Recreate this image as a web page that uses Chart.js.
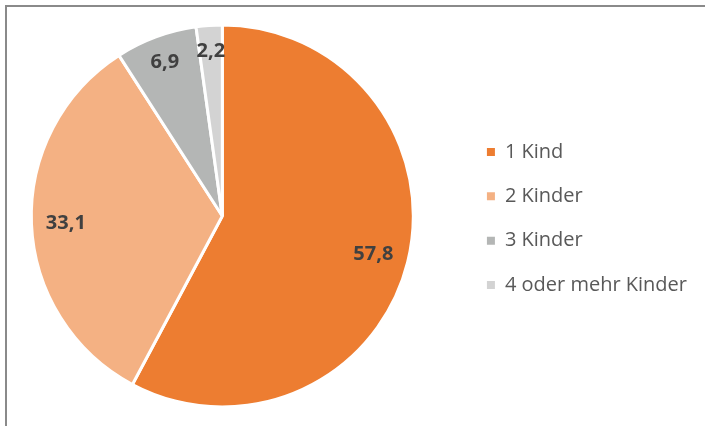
<!DOCTYPE html>
<html lang="de">
<head>
  <meta charset="UTF-8">
  <title>Kinder</title>
  <script src="https://cdn.jsdelivr.net/npm/chart.js"></script>
  <style>
    body { margin: 0; background: #fff; overflow: hidden; }
    #frame {
      position: absolute; left: 5px; top: 5px; width: 700px; height: 421px;
      border-top: 2px solid #8a8a8a; border-left: 2px solid #8a8a8a;
    }
    #wrap { position: absolute; left: -18px; top: 0; height: 426px; }
  </style>
</head>
<body>
  <div id="frame"></div>
  <div id="wrap"><canvas id="pieChart"></canvas></div>

  <script>
    const categories = ['1 Kind', '2 Kinder', '3 Kinder', '4 oder mehr Kinder'];
    const shares = [57.8, 33.1, 6.9, 2.2];
    const colors = ['#ED7D31', '#F4B183', '#B4B6B5', '#D3D3D3'];
    // how far out (share of radius) each value label sits
    const labelRadius = [0.815, 0.82, 0.865, 0.87];

    const legendFont = { family: 'Open Sans', size: 20 };
    const legendPad = 24.3;

    // size the canvas so the legend (natural width) starts at x=480
    const m = document.createElement('canvas').getContext('2d');
    m.font = legendFont.size + 'px "' + legendFont.family + '"';
    const textW = Math.max(...categories.map(c => m.measureText(c).width));
    const legendW = legendPad + 8 + legendFont.size / 2 + textW + 10;
    document.getElementById('wrap').style.width = Math.ceil(480 + legendW) + 'px';

    const valueLabels = {
      id: 'valueLabels',
      afterDatasetsDraw(chart) {
        const ctx = chart.ctx;
        const arcs = chart.getDatasetMeta(0).data;
        ctx.save();
        ctx.font = 'bold 20px "Open Sans"';
        ctx.fillStyle = '#404040';
        ctx.textAlign = 'center';
        ctx.textBaseline = 'middle';
        arcs.forEach((arc, i) => {
          const p = arc.getProps(['x', 'y', 'startAngle', 'endAngle', 'outerRadius'], true);
          const mid = (p.startAngle + p.endAngle) / 2;
          const r = p.outerRadius * labelRadius[i];
          const txt = shares[i].toFixed(1).replace('.', ',');
          ctx.fillText(txt, p.x + Math.cos(mid) * r, p.y + Math.sin(mid) * r + 1);
        });
        ctx.restore();
      }
    };

    new Chart(document.getElementById('pieChart'), {
      type: 'pie',
      data: {
        labels: categories,
        datasets: [{
          data: shares,
          backgroundColor: colors,
          borderColor: '#ffffff',
          borderWidth: 3,
          hoverOffset: 0,
          radius: 191
        }]
      },
      options: {
        responsive: true,
        maintainAspectRatio: false,
        animation: false,
        layout: { padding: { left: 0, right: 0, top: 26, bottom: 20 } },
        plugins: {
          tooltip: { enabled: false },
          legend: {
            position: 'right',
            title: { display: true, text: '', font: { size: 1, lineHeight: 1 }, padding: { top: 4, bottom: 0 } },
            labels: {
              boxWidth: 8,
              boxHeight: 8,
              padding: legendPad,
              color: '#595959',
              font: legendFont,
              generateLabels: (chart) => chart.data.labels.map((t, i) => ({
                text: t, fillStyle: colors[i], strokeStyle: colors[i],
                lineWidth: 0, hidden: false, index: i, fontColor: '#595959'
              }))
            }
          }
        }
      },
      plugins: [valueLabels]
    });
  </script>
</body>
</html>
